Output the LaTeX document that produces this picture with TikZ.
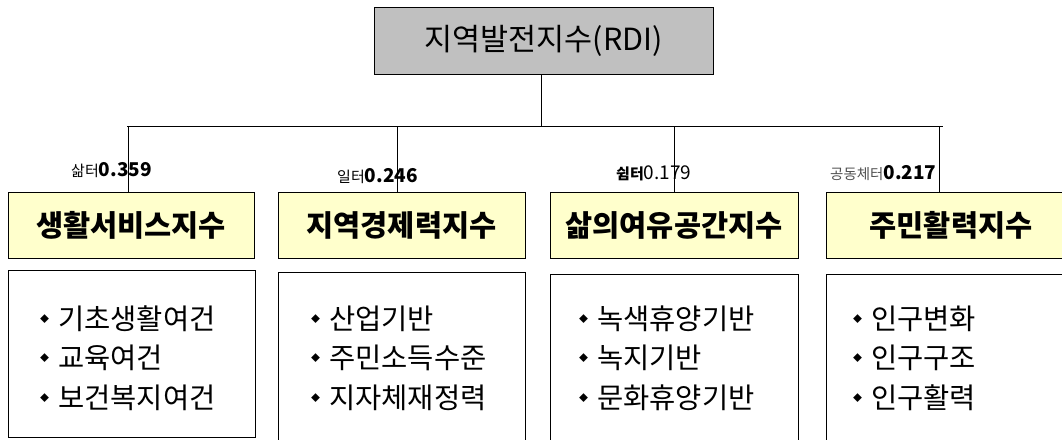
\documentclass[tikz,border=0pt]{standalone}
\usepackage{fontspec}
\setmainfont{Noto Sans CJK KR}
\definecolor{topgray}{HTML}{C0C0C0}
\definecolor{ylw}{HTML}{FFFFCC}
\definecolor{lgray}{HTML}{505050}
\newcommand\bul{\raisebox{7pt}{\fontsize{9}{9}\selectfont ◆}\hspace{9pt}}
\tikzset{
  topbox/.style={draw, fill=topgray, inner sep=0pt, minimum width=339pt, minimum height=67pt, font=\fontsize{30.5}{32}\selectfont},
  ybox/.style={draw, fill=ylw, inner sep=0pt, minimum height=66pt, font=\fontsize{29.5}{32}\selectfont\bfseries},
  lbox/.style={draw, inner sep=0pt},
  listtxt/.style={inner sep=0pt, align=left, anchor=west, font=\fontsize{28.5}{39.5}\selectfont},
  lab/.style={inner sep=0pt, anchor=base west},
  conn/.style={draw, line width=0.9pt}
}
\begin{document}
\begin{tikzpicture}[x=1pt,y=-1pt]
\useasboundingbox (0,0) rectangle (1062,439);
\clip (0,0) rectangle (1062,439);
% top
\node[topbox] (rdi) at (543.5,40.5) {지역발전지수(RDI)};
% bus
\coordinate (busL) at (127,126);
\coordinate (busR) at (943,126);
\coordinate (c0) at (541,126);
\coordinate (c1) at (128,126);
\coordinate (c2) at (397,126);
\coordinate (c3) at (674,126);
\coordinate (c4) at (939,126);
% level 2 boxes
\node[ybox, minimum width=246pt] (y1) at (131,225) {생활서비스지수};
\node[ybox, minimum width=247pt] (y2) at (401.5,225.5) {지역경제력지수};
\node[ybox, minimum width=248pt] (y3) at (674,225.5) {삶의여유공간지수};
\node[ybox, minimum width=250pt] (y4) at (951,225.5) {주민활력지수};
% bottom boxes
\node[lbox, minimum width=247pt, minimum height=167pt] (b1) at (131.5,353.5) {};
\node[lbox, minimum width=247pt, minimum height=176pt] (b2) at (401.5,360) {};
\node[lbox, minimum width=248pt, minimum height=174pt] (b3) at (674,361) {};
\node[lbox, minimum width=250pt, minimum height=174pt] (b4) at (951,361) {};
% lists
\node[listtxt] (t1) at (40,358) {\bul 기초생활여건\\ \bul 교육여건\\ \bul 보건복지여건};
\node[listtxt] (t2) at (311,358) {\bul 산업기반\\ \bul 주민소득수준\\ \bul 지자체재정력};
\node[listtxt] (t3) at (579,358) {\bul 녹색휴양기반\\ \bul 녹지기반\\ \bul 문화휴양기반};
\node[listtxt] (t4) at (853,358) {\bul 인구변화\\ \bul 인구구조\\ \bul 인구활력};
% labels
\node[lab] (l1) at (71,176) {{\fontsize{15}{15}\selectfont 삶터}{\fontsize{19}{19}\selectfont\bfseries 0.359}};
\node[lab] (l2) at (337,182) {{\fontsize{15}{15}\selectfont 일터}{\fontsize{19}{19}\selectfont\bfseries 0.246}};
\node[lab] (l3) at (616,179) {{\fontsize{15}{15}\selectfont\bfseries 쉼터}{\fontsize{19}{19}\selectfont 0.179}};
\node[lab] (l4) at (830,179) {{\fontsize{14.5}{14.5}\selectfont\color{lgray} 공동체터}{\fontsize{19}{19}\selectfont\bfseries 0.217}};
% connectors
\draw[conn] (busL) -- (busR);
\draw[conn] (c0 |- rdi.south) -- (c0);
\draw[conn] (c1) -- (c1 |- y1.north);
\draw[conn] (c2) -- (c2 |- y2.north);
\draw[conn] (c3) -- (c3 |- y3.north);
\draw[conn] (c4) -- (c4 |- y4.north);
\end{tikzpicture}
\end{document}
